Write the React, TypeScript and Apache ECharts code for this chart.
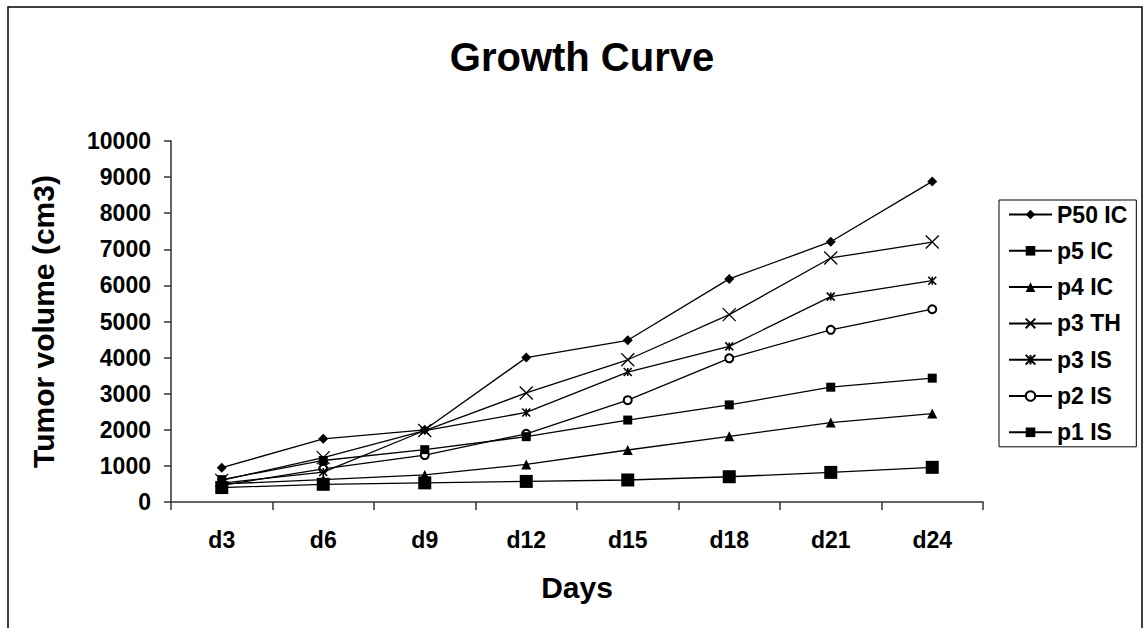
import React, { useEffect, useRef } from 'react';
import * as echarts from 'echarts';

const categories = ['d3', 'd6', 'd9', 'd12', 'd15', 'd18', 'd21', 'd24'];

const p50IC = [950, 1750, 2000, 4000, 4480, 6180, 7210, 8880];
const p5IC = [620, 1150, 1450, 1810, 2270, 2690, 3180, 3430];
const p4IC = [500, 620, 750, 1040, 1440, 1820, 2200, 2450];
const p3TH = [600, 1230, 1980, 3020, 3940, 5190, 6760, 7200];
const p3IS = [520, 830, 1980, 2480, 3600, 4310, 5690, 6130];
const p2IS = [460, 920, 1300, 1890, 2820, 3980, 4770, 5340];
const p1IS = [400, 490, 530, 570, 610, 700, 820, 960];

const seriesNames = ['P50 IC', 'p5 IC', 'p4 IC', 'p3 TH', 'p3 IS', 'p2 IS', 'p1 IS'];
const seriesData = [p50IC, p5IC, p4IC, p3TH, p3IS, p2IS, p1IS];

const yMin = 0;
const yMax = 10000;
const yInterval = 1000;

const FONT = '"Liberation Sans", Arial, Helvetica, sans-serif';

const markerStyles: any[] = [
  { symbol: 'diamond', symbolSize: 10, itemStyle: { color: '#000' } },
  { symbol: 'rect', symbolSize: 9, itemStyle: { color: '#000' } },
  { symbol: 'triangle', symbolSize: 10, itemStyle: { color: '#000' } },
  {
    symbol: 'path://M0,0L10,10M10,0L0,10',
    symbolSize: 13,
    itemStyle: { color: '#000', borderColor: '#000', borderWidth: 1.3 },
  },
  {
    symbol: 'path://M5,0L5,10M0,0L10,10M10,0L0,10',
    symbolSize: 8,
    itemStyle: { color: '#000', borderColor: '#000', borderWidth: 1.6 },
  },
  {
    symbol: 'emptyCircle',
    symbolSize: 8,
    itemStyle: { color: '#000', borderColor: '#000', borderWidth: 1.3 },
  },
  { symbol: 'rect', symbolSize: 13, itemStyle: { color: '#000' } },
];

export default function App() {
  const ref = useRef<HTMLDivElement>(null);

  useEffect(() => {
    if (!ref.current) return;
    const chart = echarts.init(ref.current, null, { renderer: 'svg' });
    const series = seriesNames.map((name, i) => ({
      name,
      type: 'line',
      data: seriesData[i],
      symbol: markerStyles[i].symbol,
      symbolSize: markerStyles[i].symbolSize,
      showAllSymbol: true,
      itemStyle: markerStyles[i].itemStyle,
      lineStyle: { color: '#000', width: 1.3 },
      emphasis: { disabled: true },
      z: 10 - i,
    }));

    chart.setOption({
      animation: false,
      backgroundColor: '#fff',
      textStyle: { fontFamily: FONT },
      title: {
        text: 'Growth Curve',
        left: 577,
        top: 32,
        textAlign: 'center',
        textStyle: { fontFamily: FONT, fontSize: 40, fontWeight: 'bold', color: '#000' },
      },
      grid: { left: 171, top: 141, right: 161, bottom: 126, containLabel: false },
      legend: {
        orient: 'vertical',
        left: 999,
        top: 200,
        padding: [3, 9, 3, 9],
        itemGap: 13.3,
        itemWidth: 43,
        itemHeight: 12,
        borderColor: '#000',
        borderWidth: 1,
        backgroundColor: '#fff',
        data: seriesNames,
        textStyle: {
          fontFamily: FONT,
          fontSize: 23,
          fontWeight: 'bold',
          color: '#000',
          lineHeight: 23,
        },
      },
      xAxis: {
        type: 'category',
        data: categories,
        boundaryGap: true,
        name: 'Days',
        nameLocation: 'middle',
        nameGap: 70,
        nameTextStyle: { fontFamily: FONT, fontSize: 30, fontWeight: 'bold', color: '#000' },
        axisLine: { lineStyle: { color: '#333', width: 1.5 } },
        axisTick: { show: true, length: 8, inside: false, lineStyle: { color: '#333', width: 1.5 } },
        axisLabel: {
          margin: 26,
          fontFamily: FONT,
          fontSize: 23,
          fontWeight: 'bold',
          color: '#000',
        },
        splitLine: { show: false },
      },
      yAxis: {
        type: 'value',
        min: yMin,
        max: yMax,
        interval: yInterval,
        name: 'Tumor volume (cm3)',
        nameLocation: 'middle',
        nameRotate: 90,
        nameGap: 113,
        nameTextStyle: { fontFamily: FONT, fontSize: 30, fontWeight: 'bold', color: '#000' },
        axisLine: { show: true, lineStyle: { color: '#333', width: 1.5 } },
        axisTick: { show: true, length: 7, inside: false, lineStyle: { color: '#333', width: 1.5 } },
        axisLabel: {
          margin: 20,
          fontFamily: FONT,
          fontSize: 23,
          fontWeight: 'bold',
          color: '#000',
          formatter: (v: number) => String(v),
        },
        splitLine: { show: false },
      },
      graphic: [
        {
          type: 'rect',
          silent: true,
          shape: { x: 8, y: 7, width: 1134, height: 700 },
          style: { fill: 'none', stroke: '#000', lineWidth: 1.5 },
        },
      ],
      series,
    });

    return () => chart.dispose();
  }, []);

  return (
    <div
      ref={ref}
      style={{ position: 'absolute', left: 0, top: 0, width: 1144, height: 628 }}
    />
  );
}
